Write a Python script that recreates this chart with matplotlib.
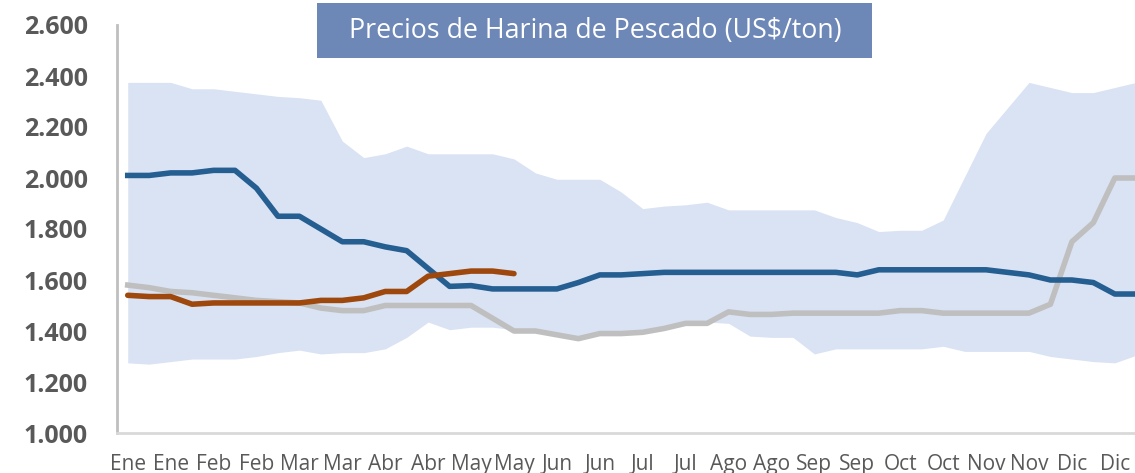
import matplotlib
matplotlib.use('Agg')
import matplotlib.pyplot as plt
from matplotlib.patches import Rectangle

# Month labels (one label every two weekly points)
months = ['Ene', 'Ene', 'Feb', 'Feb', 'Mar', 'Mar', 'Abr', 'Abr', 'May', 'May',
          'Jun', 'Jun', 'Jul', 'Jul', 'Ago', 'Ago', 'Sep', 'Sep', 'Oct', 'Oct',
          'Nov', 'Nov', 'Dic', 'Dic']

# Range band (max / min) - 48 weekly points
band_max = [2375, 2375, 2375, 2350, 2350, 2340, 2330, 2320, 2315, 2305,
            2145, 2080, 2095, 2125, 2095, 2095, 2095, 2095, 2075, 2020,
            1995, 1995, 1995, 1945, 1880, 1890, 1895, 1905, 1875, 1875,
            1875, 1875, 1875, 1845, 1825, 1790, 1795, 1795, 1835, 2005,
            2175, 2275, 2375, 2355, 2335, 2335, 2355, 2375]
band_min = [1275, 1270, 1280, 1290, 1290, 1290, 1300, 1315, 1325, 1310,
            1315, 1315, 1330, 1375, 1435, 1405, 1415, 1415, 1405, 1405,
            1390, 1375, 1395, 1395, 1400, 1415, 1435, 1435, 1430, 1380,
            1375, 1375, 1310, 1330, 1330, 1330, 1330, 1330, 1340, 1320,
            1320, 1320, 1320, 1300, 1290, 1280, 1275, 1305]

# Average (blue)
promedio = [2010, 2010, 2020, 2020, 2030, 2030, 1960, 1850, 1850, 1800,
            1750, 1750, 1730, 1715, 1645, 1575, 1578, 1565, 1565, 1565,
            1565, 1590, 1620, 1620, 1625, 1630, 1630, 1630, 1630, 1630,
            1630, 1630, 1630, 1630, 1620, 1640, 1640, 1640, 1640, 1640,
            1640, 1630, 1620, 1600, 1600, 1590, 1545, 1545]

# Previous year (gray)
anterior = [1580, 1570, 1555, 1550, 1540, 1530, 1520, 1515, 1510, 1490,
            1480, 1480, 1500, 1500, 1500, 1500, 1500, 1450, 1400, 1400,
            1385, 1370, 1390, 1390, 1395, 1410, 1430, 1430, 1475, 1465,
            1465, 1470, 1470, 1470, 1470, 1470, 1480, 1480, 1470, 1470,
            1470, 1470, 1470, 1505, 1750, 1825, 2000, 2000]

# Current year (orange)
actual = [1540, 1535, 1535, 1505, 1510, 1510, 1510, 1510, 1510, 1520,
          1520, 1530, 1555, 1555, 1615, 1625, 1635, 1635, 1625]

yticks = [1000, 1200, 1400, 1600, 1800, 2000, 2200, 2400, 2600]
ytick_labels = ['1.000', '1.200', '1.400', '1.600', '1.800', '2.000', '2.200', '2.400', '2.600']
title = 'Precios de Harina de Pescado (US$/ton)'

W, H = 1135, 473
fig = plt.figure(figsize=(W / 100, H / 100), dpi=100)
fig.patch.set_facecolor('white')

left_px, right_px, top_px, bottom_px = 117, 1147, 25, 433
ax = fig.add_axes([left_px / W, 1 - bottom_px / H,
                   (right_px - left_px) / W, (bottom_px - top_px) / H])

x = list(range(len(band_max)))
ax.fill_between(x, band_min, band_max, color='#DAE3F3', linewidth=0, zorder=1)
ax.plot(x, anterior, color='#BFBFBF', lw=4.0, zorder=3, solid_joinstyle='round')
ax.plot(x, promedio, color='#255E91', lw=4.0, zorder=4, solid_joinstyle='round')
ax.plot(list(range(len(actual))), actual, color='#9E480E', lw=4.0, zorder=5,
        solid_joinstyle='round', solid_capstyle='round')

ax.set_xlim(-0.5, len(band_max) - 0.5)
ax.set_ylim(1000, 2600)
ax.set_xticks(list(range(0, len(band_max), 2)))
ax.set_xticklabels(months, fontsize=15, color='#595959', family=['Open Sans', 'DejaVu Sans'])
ax.set_yticks(yticks)
ax.set_yticklabels(ytick_labels, fontsize=18, fontweight='bold', color='#595959',
                   family=['Open Sans', 'DejaVu Sans'])
ax.tick_params(axis='x', length=0, pad=15)
ax.tick_params(axis='y', length=0, pad=21)

for s in ['top', 'right']:
    ax.spines[s].set_visible(False)
ax.spines['left'].set_color('#BFBFBF')
ax.spines['left'].set_linewidth(2)
ax.spines['bottom'].set_color('#D9D9D9')
ax.spines['bottom'].set_linewidth(2)
ax.set_facecolor('white')

# Title box
fig.patches.append(Rectangle((317 / W, 1 - 58 / H), (872 - 317) / W, (58 - 3) / H,
                             transform=fig.transFigure, facecolor='#6D87B7',
                             edgecolor='none', zorder=10))
fig.text(595 / W, 1 - 31 / H, title, ha='center', va='center', color='white',
         fontsize=19.3, family=['Open Sans', 'DejaVu Sans'], zorder=11)

fig.savefig('out.png', dpi=100)
